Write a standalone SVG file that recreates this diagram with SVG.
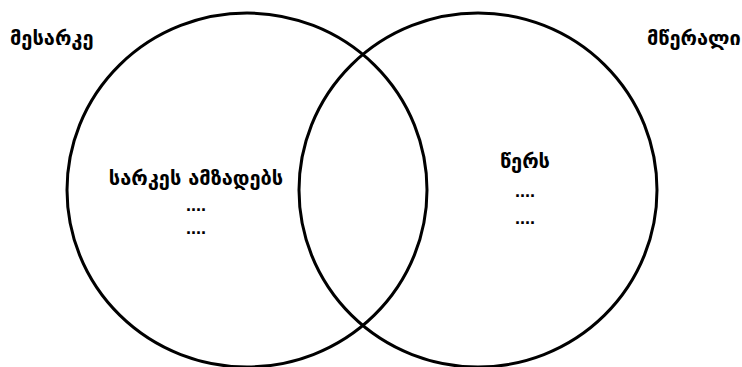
<svg xmlns="http://www.w3.org/2000/svg" width="742" height="367" viewBox="0 0 742 367">
<style>
.set{fill:none;stroke:#000;stroke-width:3}
text{font-family:"DejaVu Sans","Noto Sans",sans-serif;font-weight:bold;font-size:20px;fill:#000}
.c{text-anchor:middle}
.d{font-family:"Liberation Sans",Arial,sans-serif;font-size:18px}
</style>
<rect width="742" height="367" fill="#fff"/>
<g id="connectors"></g>
<g id="set-left">
<ellipse class="set" cx="247" cy="190" rx="180" ry="177"/>
<text class="c" x="196" y="185">სარკეს ამზადებს</text>
<text class="c d" x="196" y="211">....</text>
<text class="c d" x="196" y="234">....</text>
</g>
<g id="set-right">
<ellipse class="set" cx="478" cy="190" rx="179" ry="177"/>
<text class="c" x="525" y="168">წერს</text>
<text class="c d" x="525" y="197">....</text>
<text class="c d" x="525" y="224">....</text>
</g>
<g id="label-left"><text x="10" y="45">მესარკე</text></g>
<g id="label-right"><text x="647" y="45">მწერალი</text></g>
</svg>
